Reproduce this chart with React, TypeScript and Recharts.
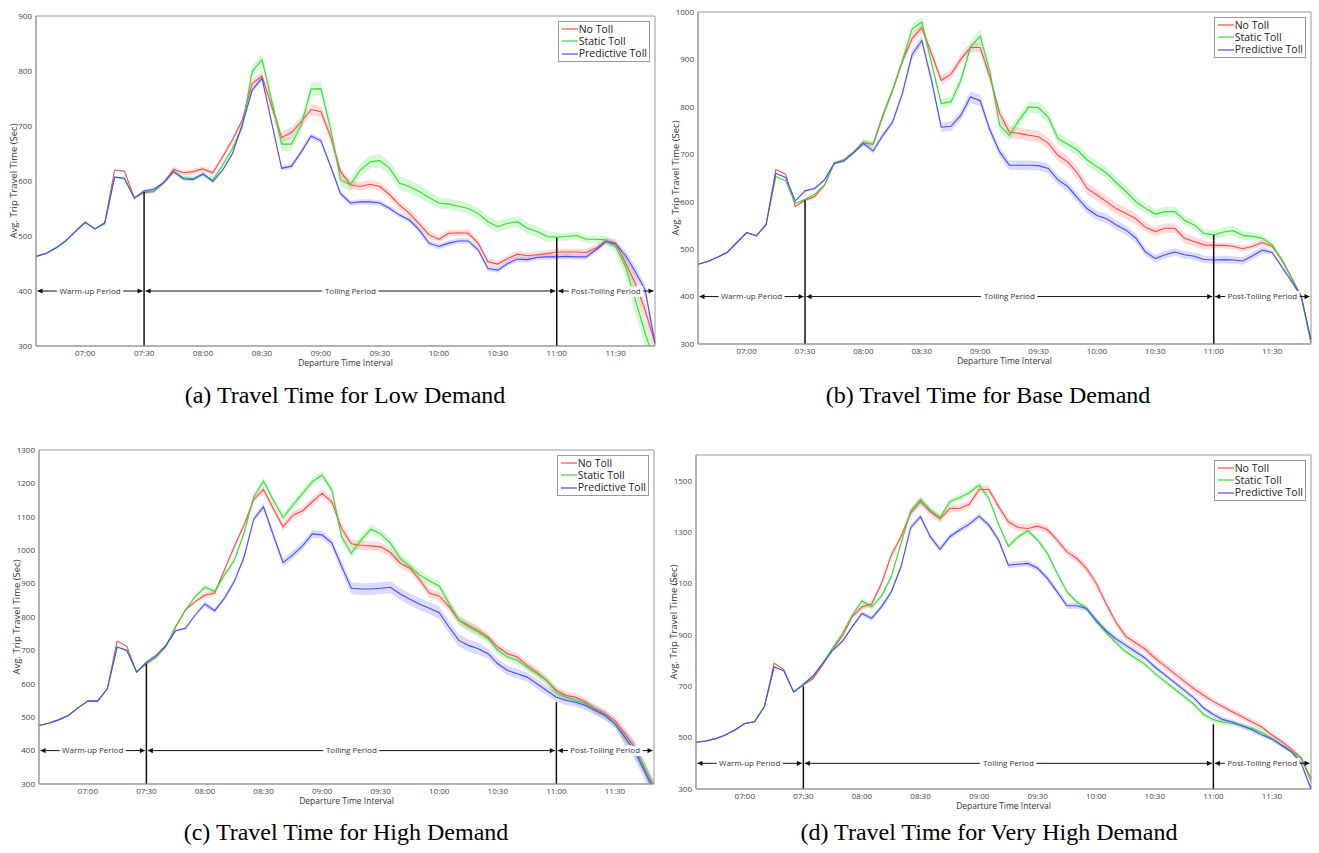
import React from 'react';
import {
  ComposedChart,
  Line,
  Area,
  XAxis,
  YAxis,
  ReferenceLine,
  ReferenceArea,
  Legend,
} from 'recharts';

// departure time intervals (5 min bins)
const TIMES = [
  '06:35', '06:40', '06:45', '06:50', '06:55', '07:00', '07:05', '07:10', '07:15', '07:20', '07:25',
  '07:30', '07:35', '07:40', '07:45', '07:50', '07:55', '08:00', '08:05', '08:10', '08:15', '08:20',
  '08:25', '08:30', '08:35', '08:40', '08:45', '08:50', '08:55', '09:00', '09:05',
  '09:10', '09:15', '09:20', '09:25', '09:30', '09:35', '09:40', '09:45', '09:50', '09:55',
  '10:00', '10:05', '10:10', '10:15', '10:20', '10:25', '10:30', '10:35', '10:40', '10:45', '10:50',
  '10:55', '11:00', '11:05', '11:10', '11:15', '11:20', '11:25',
  '11:30', '11:35', '11:40', '11:45', '11:50',
];
const X_TICKS = ['07:00', '07:30', '08:00', '08:30', '09:00', '09:30', '10:00', '10:30', '11:00', '11:30'];

const SERIES_NAMES = ['No Toll', 'Static Toll', 'Predictive Toll'];
const COLORS = ['#ff4a4a', '#33dd33', '#4a4aff'];

const PERIODS = [
  { label: 'Warm-up Period', from: '06:35', to: '07:30' },
  { label: 'Tolling Period', from: '07:30', to: '11:00' },
  { label: 'Post-Tolling Period', from: '11:00', to: '11:50' },
];
const PERIOD_LEVEL = 400;
const TOLL_START = '07:30';
const TOLL_END = '11:00';

// ---- (a) low demand ----
const LOW_NO_TOLL = [
  463, 468, 478, 491, 508, 525, 513, 524, 620, 618, 569,
  579, 581, 597, 621, 615, 617, 622, 615, 644, 675, 711,
  777, 791, 735, 679, 688, 708, 730, 726, 680,
  617, 593, 590, 594, 590, 575, 556, 541, 522, 502,
  494, 505, 506, 505, 487, 453, 449, 459, 467, 464, 466, 468, 471, 471, 471, 470, 478, 491,
  487, 451, 414, 365, 305,
];
const LOW_STATIC = [
  463, 468, 477, 490, 508, 525, 513, 522, 607, 604, 569,
  580, 581, 597, 617, 606, 604, 612, 602, 629, 659, 699,
  799, 821, 745, 667, 667, 702, 767, 768, 693,
  602, 593, 620, 635, 637, 623, 596, 590, 581, 570,
  560, 558, 554, 550, 541, 526, 517, 523, 526, 514, 508, 499, 498, 499, 501, 494, 494, 493,
  480, 444, 384, 323, 270,
];
const LOW_PREDICTIVE = [
  463, 468, 478, 491, 508, 525, 513, 524, 607, 605, 569,
  582, 585, 597, 617, 604, 603, 613, 599, 620, 650, 703,
  765, 787, 705, 623, 627, 653, 682, 673, 626,
  577, 560, 562, 562, 560, 550, 538, 529, 511, 487,
  481, 487, 491, 491, 475, 441, 438, 450, 458, 457, 461, 462, 462, 463, 462, 462, 475, 490,
  485, 465, 435, 402, 305,
];
const LOW_NO_TOLL_ERR = [
  0, 0, 0, 0, 0, 0, 0, 0, 0, 0, 0,
  3, 3, 3, 5, 5, 5, 5, 5, 5, 5, 5,
  8, 8, 10, 10, 10, 10, 10, 10, 10,
  8, 8, 8, 8, 8, 8, 8, 8, 8, 8,
  6, 6, 6, 6, 6, 6, 6, 6, 6, 6, 6, 6, 6, 6, 6, 6, 6, 6,
  8, 12, 15, 15, 15,
];
const LOW_STATIC_ERR = [
  0, 0, 0, 0, 0, 0, 0, 0, 0, 0, 0,
  3, 3, 3, 5, 5, 5, 5, 5, 5, 5, 10,
  10, 10, 12, 12, 12, 12, 12, 12, 12,
  12, 12, 12, 12, 12, 12, 12, 12, 12, 12,
  10, 10, 10, 10, 10, 10, 10, 10, 10, 10, 10, 10, 7, 7, 7, 7, 7, 7,
  10, 20, 25, 25, 25,
];
const LOW_PREDICTIVE_ERR = [
  0, 0, 0, 0, 0, 0, 0, 0, 0, 0, 0,
  3, 3, 3, 3, 3, 3, 3, 3, 3, 3, 3,
  5, 5, 5, 5, 5, 5, 5, 5, 5,
  5, 5, 5, 5, 5, 5, 5, 5, 5, 5,
  5, 5, 5, 5, 5, 5, 5, 5, 5, 5, 5, 5, 5, 5, 5, 5, 5, 5,
  5, 8, 10, 10, 10,
];
const LOW_Y_TICKS = [300, 400, 500, 600, 700, 800, 900];
const LOW_MARKER_TOPS = [580, 497];

// ---- (b) base demand ----
const BASE_NO_TOLL = [
  468, 474, 483, 493, 514, 535, 528, 552, 668, 658, 590,
  603, 611, 635, 681, 688, 705, 725, 721, 783, 835, 895,
  944, 967, 912, 856, 869, 900, 925, 925, 863,
  786, 747, 744, 740, 737, 723, 698, 684, 660, 628,
  614, 600, 585, 575, 564, 546, 537, 544, 544, 523, 516, 509, 508, 508, 506, 501, 506, 514,
  506, 478, 440, 400, 303,
];
const BASE_STATIC = [
  468, 474, 483, 493, 514, 535, 528, 552, 653, 644, 596,
  605, 616, 635, 681, 688, 705, 725, 721, 780, 835, 898,
  964, 979, 892, 807, 811, 855, 926, 949, 874,
  761, 740, 772, 800, 798, 778, 733, 721, 709, 688,
  674, 660, 640, 621, 600, 586, 574, 579, 579, 561, 551, 533, 530, 536, 539, 529, 527, 523,
  509, 477, 439, 400, 302,
];
const BASE_PREDICTIVE = [
  468, 474, 483, 493, 514, 535, 528, 552, 660, 651, 602,
  623, 628, 646, 681, 686, 703, 723, 707, 740, 768, 828,
  910, 940, 856, 757, 759, 782, 821, 813, 751,
  705, 677, 677, 677, 676, 670, 646, 632, 608, 585,
  571, 564, 551, 540, 523, 494, 480, 488, 494, 488, 485, 478, 477, 478, 477, 475, 486, 498,
  493, 463, 432, 400, 309,
];
const BASE_NO_TOLL_ERR = [
  0, 0, 0, 0, 0, 0, 0, 0, 0, 0, 0,
  3, 3, 3, 3, 3, 3, 6, 6, 6, 6, 6,
  10, 10, 10, 10, 10, 10, 10, 10, 10,
  12, 12, 12, 12, 12, 12, 12, 12, 12, 12,
  12, 12, 12, 12, 12, 10, 10, 10, 10, 10, 10, 10, 6, 6, 6, 6, 6, 6,
  5, 5, 5, 5, 5,
];
const BASE_STATIC_ERR = [
  0, 0, 0, 0, 0, 0, 0, 0, 0, 0, 0,
  3, 3, 3, 3, 3, 3, 6, 6, 6, 6, 6,
  10, 10, 10, 10, 10, 10, 12, 15, 12,
  12, 12, 12, 12, 12, 12, 12, 12, 12, 12,
  12, 12, 12, 12, 12, 10, 10, 10, 10, 10, 10, 10, 10, 10, 10, 10, 8, 8,
  6, 5, 5, 5, 5,
];
const BASE_PREDICTIVE_ERR = [
  0, 0, 0, 0, 0, 0, 0, 0, 0, 0, 0,
  3, 3, 3, 3, 3, 3, 6, 6, 6, 6, 6,
  10, 10, 10, 10, 10, 10, 12, 12, 10,
  10, 10, 10, 10, 10, 10, 10, 10, 10, 10,
  10, 10, 10, 10, 10, 8, 8, 8, 8, 8, 8, 8, 8, 8, 8, 8, 8, 8,
  4, 4, 4, 4, 4,
];
const BASE_Y_TICKS = [300, 400, 500, 600, 700, 800, 900, 1000];
const BASE_MARKER_TOPS = [603, 530];

// ---- (c) high demand ----
const HIGH_NO_TOLL = [
  475, 482, 492, 505, 528, 548, 548, 585, 728, 712, 635,
  660, 680, 712, 771, 821, 846, 866, 871, 941, 1011, 1075,
  1152, 1182, 1125, 1070, 1105, 1118, 1145, 1170, 1145,
  1065, 1019, 1014, 1013, 1010, 993, 961, 946, 911, 871,
  863, 831, 791, 775, 760, 740, 710, 690, 680, 655, 635, 610, 580, 565, 560, 545, 525, 510,
  490, 450, 410, 350, 290,
];
const HIGH_STATIC = [
  475, 482, 492, 505, 528, 548, 548, 585, 710, 700, 635,
  660, 680, 712, 771, 821, 861, 889, 876, 926, 969, 1051,
  1160, 1207, 1150, 1098, 1135, 1170, 1205, 1225, 1180,
  1040, 991, 1031, 1063, 1049, 1021, 976, 951, 926, 908,
  893, 841, 791, 770, 755, 735, 700, 680, 670, 650, 630, 610, 575, 560, 550, 540, 520, 505,
  480, 440, 400, 350, 285,
];
const HIGH_PREDICTIVE = [
  475, 482, 492, 505, 528, 548, 548, 585, 710, 700, 635,
  665, 685, 715, 759, 766, 806, 839, 819, 856, 906, 979,
  1093, 1130, 1045, 963, 986, 1013, 1049, 1046, 1021,
  951, 886, 884, 884, 886, 889, 869, 853, 838, 826,
  813, 770, 730, 715, 705, 690, 660, 640, 630, 620, 600, 580, 560, 550, 545, 535, 520, 505,
  480, 440, 400, 340, 280,
];
const HIGH_NO_TOLL_ERR = [
  0, 0, 0, 0, 0, 0, 0, 0, 0, 0, 0,
  4, 4, 4, 4, 4, 4, 8, 8, 8, 8, 8,
  8, 12, 12, 12, 12, 12, 12, 12, 12,
  14, 14, 14, 14, 14, 14, 14, 14, 14, 14,
  14, 14, 14, 14, 14, 12, 12, 12, 12, 12, 12, 12, 12, 12, 12, 12, 12, 12,
  10, 20, 20, 20, 20,
];
const HIGH_STATIC_ERR = [
  0, 0, 0, 0, 0, 0, 0, 0, 0, 0, 0,
  4, 4, 4, 4, 4, 4, 8, 8, 8, 8, 8,
  8, 12, 12, 12, 12, 12, 12, 12, 12,
  14, 14, 14, 14, 14, 14, 14, 14, 14, 14,
  14, 14, 14, 14, 14, 12, 12, 12, 12, 12, 12, 12, 12, 12, 12, 12, 12, 12,
  10, 20, 20, 20, 20,
];
const HIGH_PREDICTIVE_ERR = [
  0, 0, 0, 0, 0, 0, 0, 0, 0, 0, 0,
  4, 4, 4, 4, 4, 4, 8, 8, 8, 8, 8,
  8, 12, 12, 12, 12, 12, 12, 12, 12,
  18, 18, 18, 18, 18, 18, 18, 18, 18, 18,
  18, 18, 18, 18, 18, 14, 14, 14, 14, 14, 14, 14, 14, 14, 14, 14, 14, 14,
  12, 20, 25, 25, 25,
];
const HIGH_Y_TICKS = [300, 400, 500, 600, 700, 800, 900, 1000, 1100, 1200, 1300];
const HIGH_MARKER_TOPS = [660, 545];

// ---- (d) very high demand ----
const VHIGH_NO_TOLL = [
  482, 487, 496, 510, 530, 555, 562, 620, 790, 765, 678,
  705, 730, 785, 845, 895, 970, 1009, 1020, 1100, 1210, 1282,
  1375, 1418, 1379, 1351, 1392, 1392, 1408, 1466, 1466,
  1399, 1340, 1318, 1314, 1323, 1310, 1269, 1223, 1197, 1159,
  1100, 1022, 950, 895, 870, 845, 810, 780, 750, 720, 690, 665, 640, 620, 600, 580, 560, 540,
  510, 485, 455, 420, 340,
];
const VHIGH_STATIC = [
  482, 487, 496, 510, 530, 555, 562, 620, 775, 760, 678,
  705, 738, 790, 850, 905, 977, 1032, 1009, 1051, 1126, 1256,
  1383, 1427, 1386, 1357, 1418, 1435, 1453, 1483, 1431,
  1330, 1245, 1282, 1305, 1269, 1217, 1139, 1067, 1029, 1003,
  951, 910, 870, 835, 810, 785, 750, 720, 690, 660, 630, 590, 570, 560, 555, 545, 535, 520,
  495, 470, 445, 420, 330,
];
const VHIGH_PREDICTIVE = [
  482, 487, 496, 510, 530, 555, 562, 620, 775, 760, 678,
  708, 740, 790, 840, 875, 931, 983, 964, 1009, 1067, 1165,
  1318, 1360, 1282, 1233, 1282, 1308, 1331, 1362, 1327,
  1269, 1171, 1175, 1178, 1159, 1120, 1067, 1013, 1013, 1003,
  957, 916, 885, 860, 835, 810, 775, 745, 715, 685, 655, 615, 590, 570, 560, 545, 530, 510,
  495, 470, 445, 400, 300,
];
const VHIGH_NO_TOLL_ERR = [
  0, 0, 0, 0, 0, 0, 0, 0, 0, 0, 0,
  5, 5, 5, 5, 5, 5, 12, 12, 12, 12, 12,
  15, 15, 15, 15, 15, 15, 15, 15, 15,
  15, 15, 15, 15, 15, 15, 15, 15, 15, 15,
  15, 15, 15, 15, 15, 15, 15, 15, 15, 15, 15, 15, 12, 12, 12, 12, 12, 12,
  10, 10, 10, 10, 10,
];
const VHIGH_STATIC_ERR = [
  0, 0, 0, 0, 0, 0, 0, 0, 0, 0, 0,
  5, 5, 5, 5, 5, 5, 10, 10, 10, 10, 10,
  12, 12, 12, 12, 12, 12, 12, 12, 12,
  10, 10, 10, 10, 10, 10, 10, 10, 10, 10,
  10, 10, 10, 10, 10, 10, 10, 10, 10, 10, 10, 10, 10, 10, 10, 10, 10, 10,
  8, 8, 8, 8, 8,
];
const VHIGH_PREDICTIVE_ERR = [
  0, 0, 0, 0, 0, 0, 0, 0, 0, 0, 0,
  5, 5, 5, 5, 5, 5, 10, 10, 10, 10, 10,
  12, 12, 12, 12, 12, 12, 12, 12, 12,
  12, 12, 12, 12, 12, 12, 12, 12, 12, 12,
  12, 12, 12, 12, 12, 10, 10, 10, 10, 10, 10, 10, 10, 10, 10, 10, 10, 10,
  8, 8, 8, 8, 8,
];
const VHIGH_Y_TICKS = [300, 500, 700, 900, 1100, 1300, 1500];
const VHIGH_MARKER_TOPS = [700, 552];

const toMin = (t: string) => {
  const [h, m] = t.split(':').map(Number);
  return h * 60 + m;
};
const fmt = (v: number) => {
  const h = Math.floor(v / 60);
  const m = v % 60;
  return `${String(h).padStart(2, '0')}:${String(m).padStart(2, '0')}`;
};

const KEYS = ['noToll', 'staticToll', 'predictive'];

function buildRows(series: number[][], errors: number[][]) {
  return TIMES.map((t, i) => {
    const row: any = { m: toMin(t) };
    KEYS.forEach((k, s) => {
      row[k] = series[s][i];
      row[k + 'Band'] = [series[s][i] - errors[s][i], series[s][i] + errors[s][i]];
    });
    return row;
  });
}

const PANELS = [
  {
    caption: '(a) Travel Time for Low Demand',
    plot: { x: 36, y: 16, w: 619, h: 330 },
    cap: { x: 345, y: 395 },
    yDomain: [300, 900],
    yTicks: LOW_Y_TICKS,
    series: [LOW_NO_TOLL, LOW_STATIC, LOW_PREDICTIVE],
    errors: [LOW_NO_TOLL_ERR, LOW_STATIC_ERR, LOW_PREDICTIVE_ERR],
    markers: LOW_MARKER_TOPS,
  },
  {
    caption: '(b) Travel Time for Base Demand',
    plot: { x: 698, y: 12, w: 613, h: 332 },
    cap: { x: 988, y: 395 },
    yDomain: [300, 1000],
    yTicks: BASE_Y_TICKS,
    series: [BASE_NO_TOLL, BASE_STATIC, BASE_PREDICTIVE],
    errors: [BASE_NO_TOLL_ERR, BASE_STATIC_ERR, BASE_PREDICTIVE_ERR],
    markers: BASE_MARKER_TOPS,
  },
  {
    caption: '(c) Travel Time for High Demand',
    plot: { x: 39, y: 450, w: 615, h: 334 },
    cap: { x: 346, y: 832 },
    yDomain: [300, 1300],
    yTicks: HIGH_Y_TICKS,
    series: [HIGH_NO_TOLL, HIGH_STATIC, HIGH_PREDICTIVE],
    errors: [HIGH_NO_TOLL_ERR, HIGH_STATIC_ERR, HIGH_PREDICTIVE_ERR],
    markers: HIGH_MARKER_TOPS,
  },
  {
    caption: '(d) Travel Time for Very High Demand',
    plot: { x: 696, y: 455, w: 615, h: 334 },
    cap: { x: 989, y: 832 },
    yDomain: [300, 1600],
    yTicks: VHIGH_Y_TICKS,
    series: [VHIGH_NO_TOLL, VHIGH_STATIC, VHIGH_PREDICTIVE],
    errors: [VHIGH_NO_TOLL_ERR, VHIGH_STATIC_ERR, VHIGH_PREDICTIVE_ERR],
    markers: VHIGH_MARKER_TOPS,
  },
];

const FONT = "'Open Sans', 'DejaVu Sans', sans-serif";

const PeriodArrow = (props: any) => {
  const { x1, y1, x2, text } = props;
  const a = x1 + 1.5;
  const b = x2 - 1.5;
  const mid = (x1 + x2) / 2;
  return (
    <g>
      <line x1={a} y1={y1} x2={b} y2={y1} stroke="#111" strokeWidth={1} />
      <path d={`M${a},${y1} l5,-2.6 v5.2 z`} fill="#111" />
      <path d={`M${b},${y1} l-5,-2.6 v5.2 z`} fill="#111" />
      <text
        x={mid}
        y={y1}
        dy="0.34em"
        textAnchor="middle"
        fontSize={8}
        fontFamily={FONT}
        fill="#333"
        stroke="#fff"
        strokeWidth={6}
        paintOrder="stroke"
      >
        {text}
      </text>
    </g>
  );
};

const LegendBox = () => (
  <div
    style={{
      border: '1px solid #999',
      background: '#fff',
      padding: '1px 2px 1px 3px',
      fontFamily: FONT,
      fontSize: 10.5,
      lineHeight: '12.2px',
      color: '#222',
    }}
  >
    {SERIES_NAMES.map((n, i) => (
      <div key={n} style={{ display: 'flex', alignItems: 'center', whiteSpace: 'nowrap' }}>
        <svg width={16} height={4} style={{ marginRight: 1 }}>
          <line x1={0} y1={2} x2={16} y2={2} stroke={COLORS[i]} strokeWidth={1.2} />
        </svg>
        <span>{n}</span>
      </div>
    ))}
  </div>
);

const Panel = ({ p }: { p: (typeof PANELS)[number] }) => {
  const rows = buildRows(p.series, p.errors);
  const xMin = toMin(TIMES[0]);
  const xMax = toMin(TIMES[TIMES.length - 1]);
  const [yMin, yMax] = p.yDomain;
  const W = p.plot.w + 50;
  const H = p.plot.h + 46;
  return (
    <>
      <div style={{ position: 'absolute', left: p.plot.x - 40, top: p.plot.y - 16 }}>
        <ComposedChart
          width={W}
          height={H}
          data={rows}
          margin={{ top: 16, right: 10, bottom: 10, left: 10 }}
        >
          <XAxis
            dataKey="m"
            type="number"
            domain={[xMin, xMax]}
            ticks={X_TICKS.map(toMin)}
            tickFormatter={fmt}
            height={20}
            tickLine={false}
            tickSize={4}
            tickMargin={0}
            axisLine={{ stroke: '#999' }}
            tick={{ fontSize: 8, fill: '#444', fontFamily: FONT }}
            label={{
              value: 'Departure Time Interval',
              position: 'insideBottom',
              offset: 0,
              fontSize: 8.5,
              fill: '#333',
              fontFamily: FONT,
            }}
          />
          <YAxis
            type="number"
            domain={[yMin, yMax]}
            ticks={p.yTicks}
            allowDataOverflow
            width={30}
            tickLine={false}
            tickSize={3}
            tickMargin={1}
            axisLine={{ stroke: '#999' }}
            tick={{ fontSize: 8, fill: '#444', fontFamily: FONT }}
          />
          <ReferenceArea x1={xMin} x2={xMax} y1={yMin} y2={yMax} fill="none" stroke="#999" ifOverflow="visible" />
          {KEYS.map((k, s) => (
            <Area
              key={k + 'Band'}
              type="linear"
              dataKey={k + 'Band'}
              stroke="none"
              fill={COLORS[s]}
              fillOpacity={0.2}
              legendType="none"
              dot={false}
              activeDot={false}
              isAnimationActive={false}
            />
          ))}
          {KEYS.map((k, s) => (
            <Line
              key={k}
              type="linear"
              dataKey={k}
              name={SERIES_NAMES[s]}
              stroke={COLORS[s]}
              strokeWidth={1.1}
              dot={false}
              activeDot={false}
              isAnimationActive={false}
            />
          ))}
          <ReferenceLine
            segment={[{ x: toMin(TOLL_START), y: yMin }, { x: toMin(TOLL_START), y: p.markers[0] }]}
            stroke="#111"
            strokeWidth={1.5}
            ifOverflow="visible"
          />
          <ReferenceLine
            segment={[{ x: toMin(TOLL_END), y: yMin }, { x: toMin(TOLL_END), y: p.markers[1] }]}
            stroke="#111"
            strokeWidth={1.5}
            ifOverflow="visible"
          />
          {PERIODS.map((per) => (
            <ReferenceLine
              key={per.label}
              segment={[{ x: toMin(per.from), y: PERIOD_LEVEL }, { x: toMin(per.to), y: PERIOD_LEVEL }]}
              ifOverflow="visible"
              shape={(props: any) => <PeriodArrow {...props} text={per.label} />}
            />
          ))}
          <Legend
            layout="vertical"
            align="center"
            verticalAlign="middle"
            content={() => <LegendBox />}
            wrapperStyle={{ top: 21, right: 15, left: 'auto', width: 'auto' }}
          />
        </ComposedChart>
      </div>
      <div
        style={{
          position: 'absolute',
          left: p.plot.x - 23,
          top: p.plot.y + p.plot.h / 2,
          transform: 'translate(-50%, -50%) rotate(-90deg)',
          whiteSpace: 'nowrap',
          fontFamily: FONT,
          fontSize: 9.5,
          color: '#333',
        }}
      >
        Avg. Trip Travel Time (Sec)
      </div>
      <div
        style={{
          position: 'absolute',
          left: p.cap.x,
          top: p.cap.y,
          transform: 'translate(-50%, -50%)',
          whiteSpace: 'nowrap',
          fontFamily: "'Liberation Serif', 'Times New Roman', serif",
          fontSize: 24,
          color: '#000',
        }}
      >
        {p.caption}
      </div>
    </>
  );
};

export default function App() {
  return (
    <div style={{ position: 'absolute', left: 0, top: 0, width: 1319, height: 853, background: '#fff' }}>
      {PANELS.map((p) => (
        <Panel key={p.caption} p={p} />
      ))}
    </div>
  );
}
